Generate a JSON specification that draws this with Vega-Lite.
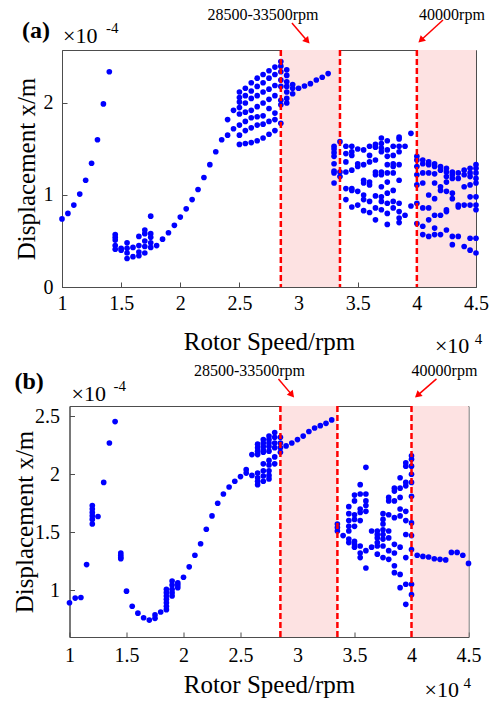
{
"$schema": "https://vega.github.io/schema/vega-lite/v6.json",
"background": "white",
"padding": {"left": 12, "top": 6, "right": 0, "bottom": 0},
"center": true,
"spacing": 4,
"config": {
 "font": "Liberation Serif",
 "view": {"stroke": "#4d4d4d", "strokeWidth": 1},
 "axis": {"labelFont": "Liberation Serif", "titleFont": "Liberation Serif", "labelFontSize": 20, "titleFontSize": 25, "titleFontWeight": "normal", "labelColor": "#000000", "titleColor": "#000000", "domainColor": "#4d4d4d", "tickColor": "#4d4d4d", "grid": false, "labelFlush": false, "tickSize": -5}
},
"datasets": {
 "pa": [
{"s":10000,"d":0.74},{"s":10500,"d":0.80},{"s":11000,"d":0.89},{"s":11500,"d":1.01},{"s":12000,"d":1.16},{"s":12500,"d":1.345},{"s":13000,"d":1.6},{"s":13500,"d":1.99},{"s":14000,"d":2.34},
{"s":14500,"d":0.57},{"s":14500,"d":0.54},{"s":14500,"d":0.51},{"s":14500,"d":0.45},{"s":14500,"d":0.41},
{"s":15000,"d":0.40},{"s":15000,"d":0.42},
{"s":15500,"d":0.48},{"s":15500,"d":0.42},{"s":15500,"d":0.37},{"s":15500,"d":0.31},
{"s":16000,"d":0.43},{"s":16000,"d":0.33},
{"s":16500,"d":0.55},{"s":16500,"d":0.45},{"s":16500,"d":0.38},{"s":16500,"d":0.34},
{"s":17000,"d":0.62},{"s":17000,"d":0.58},{"s":17000,"d":0.50},{"s":17000,"d":0.44},{"s":17000,"d":0.37},
{"s":17500,"d":0.77},{"s":17500,"d":0.58},{"s":17500,"d":0.54},{"s":17500,"d":0.48},{"s":17500,"d":0.43},
{"s":18000,"d":0.45},{"s":18500,"d":0.52},{"s":19000,"d":0.59},{"s":19500,"d":0.67},{"s":20000,"d":0.76},{"s":20500,"d":0.85},{"s":21000,"d":0.95},{"s":21500,"d":1.06},{"s":22000,"d":1.19},{"s":22500,"d":1.33},{"s":23000,"d":1.47},{"s":23500,"d":1.60},
{"s":24000,"d":1.65},{"s":24000,"d":1.82},
{"s":24500,"d":1.72},{"s":24500,"d":1.92},
{"s":25000,"d":1.55},{"s":25000,"d":1.65},{"s":25000,"d":1.76},{"s":25000,"d":1.88},{"s":25000,"d":1.95},{"s":25000,"d":2.01},{"s":25000,"d":2.06},{"s":25000,"d":2.12},
{"s":25500,"d":1.56},{"s":25500,"d":1.70},{"s":25500,"d":1.80},{"s":25500,"d":1.90},{"s":25500,"d":2.00},{"s":25500,"d":2.08},{"s":25500,"d":2.16},
{"s":26000,"d":1.57},{"s":26000,"d":1.73},{"s":26000,"d":1.84},{"s":26000,"d":1.92},{"s":26000,"d":2.05},{"s":26000,"d":2.13},{"s":26000,"d":2.22},
{"s":26500,"d":1.59},{"s":26500,"d":1.76},{"s":26500,"d":1.85},{"s":26500,"d":1.96},{"s":26500,"d":2.08},{"s":26500,"d":2.18},{"s":26500,"d":2.27},
{"s":27000,"d":1.62},{"s":27000,"d":1.77},{"s":27000,"d":1.86},{"s":27000,"d":2.00},{"s":27000,"d":2.12},{"s":27000,"d":2.22},{"s":27000,"d":2.31},
{"s":27500,"d":1.66},{"s":27500,"d":1.80},{"s":27500,"d":1.94},{"s":27500,"d":2.04},{"s":27500,"d":2.15},{"s":27500,"d":2.27},{"s":27500,"d":2.35},
{"s":28000,"d":1.70},{"s":28000,"d":1.82},{"s":28000,"d":1.89},{"s":28000,"d":2.08},{"s":28000,"d":2.19},{"s":28000,"d":2.31},{"s":28000,"d":2.39},
{"s":28500,"d":1.78},{"s":28500,"d":1.98},{"s":28500,"d":2.03},{"s":28500,"d":2.18},{"s":28500,"d":2.25},{"s":28500,"d":2.34},{"s":28500,"d":2.40},{"s":28500,"d":2.45},
{"s":29000,"d":2.00},{"s":29000,"d":2.05},{"s":29000,"d":2.12},{"s":29000,"d":2.18},{"s":29000,"d":2.23},{"s":29000,"d":2.30},{"s":29000,"d":2.36},
{"s":29500,"d":2.10},{"s":29500,"d":2.16},{"s":29500,"d":2.20},
{"s":30000,"d":2.16},{"s":30500,"d":2.185},{"s":31000,"d":2.21},{"s":31500,"d":2.25},{"s":32000,"d":2.28},{"s":32500,"d":2.32},
{"s":33000,"d":1.53},{"s":33000,"d":1.50},{"s":33000,"d":1.46},{"s":33000,"d":1.42},{"s":33000,"d":1.34},{"s":33000,"d":1.26},{"s":33000,"d":1.24},{"s":33000,"d":1.13},
{"s":33500,"d":1.58},{"s":33500,"d":1.25},{"s":33500,"d":1.20},
{"s":34000,"d":1.53},{"s":34000,"d":1.45},{"s":34000,"d":1.36},{"s":34000,"d":1.25},{"s":34000,"d":1.07},{"s":34000,"d":0.95},
{"s":34500,"d":1.53},{"s":34500,"d":1.47},{"s":34500,"d":1.43},{"s":34500,"d":1.27},{"s":34500,"d":1.07},{"s":34500,"d":1.05},{"s":34500,"d":0.87},
{"s":35000,"d":1.50},{"s":35000,"d":1.34},{"s":35000,"d":1.31},{"s":35000,"d":1.04},{"s":35000,"d":0.89},
{"s":35500,"d":1.49},{"s":35500,"d":1.33},{"s":35500,"d":1.16},{"s":35500,"d":1.13},{"s":35500,"d":1.00},{"s":35500,"d":0.95},{"s":35500,"d":0.83},
{"s":36000,"d":1.53},{"s":36000,"d":1.43},{"s":36000,"d":1.36},{"s":36000,"d":1.14},{"s":36000,"d":1.11},{"s":36000,"d":0.93},{"s":36000,"d":0.81},
{"s":36500,"d":1.55},{"s":36500,"d":1.52},{"s":36500,"d":1.38},{"s":36500,"d":1.25},{"s":36500,"d":1.22},{"s":36500,"d":0.99},{"s":36500,"d":0.86},{"s":36500,"d":0.73},
{"s":37000,"d":1.62},{"s":37000,"d":1.56},{"s":37000,"d":1.51},{"s":37000,"d":1.47},{"s":37000,"d":1.25},{"s":37000,"d":1.22},{"s":37000,"d":1.09},{"s":37000,"d":0.98},{"s":37000,"d":0.93},{"s":37000,"d":0.84},
{"s":37500,"d":1.59},{"s":37500,"d":1.49},{"s":37500,"d":1.42},{"s":37500,"d":1.33},{"s":37500,"d":1.24},{"s":37500,"d":1.14},{"s":37500,"d":1.02},{"s":37500,"d":0.91},{"s":37500,"d":0.80},{"s":37500,"d":0.68},
{"s":38000,"d":1.53},{"s":38000,"d":1.43},{"s":38000,"d":1.34},{"s":38000,"d":1.31},{"s":38000,"d":1.24},{"s":38000,"d":1.05},{"s":38000,"d":0.93},{"s":38000,"d":0.86},
{"s":38500,"d":1.63},{"s":38500,"d":1.61},{"s":38500,"d":1.53},{"s":38500,"d":1.47},{"s":38500,"d":1.33},{"s":38500,"d":1.16},{"s":38500,"d":0.91},{"s":38500,"d":0.82},{"s":38500,"d":0.75},{"s":38500,"d":0.70},
{"s":39000,"d":1.53},{"s":39000,"d":0.78},
{"s":39500,"d":1.67},{"s":39500,"d":0.88},
{"s":40000,"d":1.42},{"s":40000,"d":1.38},{"s":40000,"d":1.31},{"s":40000,"d":1.22},{"s":40000,"d":1.11},{"s":40000,"d":0.91},{"s":40000,"d":0.69},
{"s":40500,"d":1.38},{"s":40500,"d":1.34},{"s":40500,"d":1.24},{"s":40500,"d":1.13},{"s":40500,"d":0.86},{"s":40500,"d":0.66},{"s":40500,"d":0.57},
{"s":41000,"d":1.36},{"s":41000,"d":1.33},{"s":41000,"d":1.24},{"s":41000,"d":1.00},{"s":41000,"d":0.86},{"s":41000,"d":0.73},{"s":41000,"d":0.55},
{"s":41500,"d":1.34},{"s":41500,"d":1.31},{"s":41500,"d":1.23},{"s":41500,"d":1.13},{"s":41500,"d":0.96},{"s":41500,"d":0.78},{"s":41500,"d":0.64},{"s":41500,"d":0.57},
{"s":42000,"d":1.31},{"s":42000,"d":1.27},{"s":42000,"d":1.09},{"s":42000,"d":1.05},{"s":42000,"d":0.78},{"s":42000,"d":0.57},
{"s":42500,"d":1.29},{"s":42500,"d":1.25},{"s":42500,"d":1.20},{"s":42500,"d":1.14},{"s":42500,"d":1.04},{"s":42500,"d":0.84},{"s":42500,"d":0.82},{"s":42500,"d":0.62},
{"s":43000,"d":1.25},{"s":43000,"d":1.22},{"s":43000,"d":1.18},{"s":43000,"d":1.02},{"s":43000,"d":0.96},{"s":43000,"d":0.55},{"s":43000,"d":0.46},
{"s":43500,"d":1.24},{"s":43500,"d":1.18},{"s":43500,"d":0.89},{"s":43500,"d":0.87},{"s":43500,"d":0.55},
{"s":44000,"d":1.27},{"s":44000,"d":1.22},{"s":44000,"d":1.09},{"s":44000,"d":0.89},{"s":44000,"d":0.44},
{"s":44500,"d":1.29},{"s":44500,"d":1.24},{"s":44500,"d":1.20},{"s":44500,"d":1.11},{"s":44500,"d":0.98},{"s":44500,"d":0.89},{"s":44500,"d":0.53},{"s":44500,"d":0.40},
{"s":45000,"d":1.33},{"s":45000,"d":1.29},{"s":45000,"d":1.24},{"s":45000,"d":1.18},{"s":45000,"d":1.13},{"s":45000,"d":0.98},{"s":45000,"d":0.89},{"s":45000,"d":0.84},{"s":45000,"d":0.53},{"s":45000,"d":0.37}
 ],
 "pb": [
{"s":10000,"d":0.89},{"s":10500,"d":0.93},{"s":11000,"d":0.935},{"s":11500,"d":1.22},
{"s":12000,"d":1.73},{"s":12000,"d":1.70},{"s":12000,"d":1.67},{"s":12000,"d":1.64},{"s":12000,"d":1.61},{"s":12000,"d":1.57},
{"s":12500,"d":1.635},{"s":13000,"d":1.93},{"s":13500,"d":2.27},{"s":14000,"d":2.455},
{"s":14500,"d":1.32},{"s":14500,"d":1.30},{"s":14500,"d":1.28},{"s":14500,"d":1.27},
{"s":15000,"d":0.99},{"s":15500,"d":0.86},{"s":16000,"d":0.80},{"s":16500,"d":0.76},{"s":17000,"d":0.74},
{"s":17500,"d":0.785},{"s":17500,"d":0.755},{"s":18000,"d":0.81},
{"s":18500,"d":1.006},{"s":18500,"d":0.977},{"s":18500,"d":0.948},{"s":18500,"d":0.92},{"s":18500,"d":0.89},{"s":18500,"d":0.86},{"s":18500,"d":0.83},
{"s":19000,"d":1.078},{"s":19000,"d":1.043},{"s":19000,"d":1.006},{"s":19000,"d":0.977},{"s":19000,"d":0.948},
{"s":19500,"d":1.063},{"s":19500,"d":1.043},{"s":19500,"d":1.02},
{"s":20000,"d":1.11},{"s":20500,"d":1.20},{"s":21000,"d":1.30},{"s":21500,"d":1.40},{"s":22000,"d":1.525},{"s":22500,"d":1.64},{"s":23000,"d":1.75},{"s":23500,"d":1.83},{"s":24000,"d":1.89},{"s":24500,"d":1.94},{"s":25000,"d":1.98},
{"s":25500,"d":2.04},{"s":25500,"d":2.01},
{"s":26000,"d":2.17},{"s":26000,"d":1.99},
{"s":26500,"d":2.26},{"s":26500,"d":2.23},{"s":26500,"d":2.20},{"s":26500,"d":2.17},{"s":26500,"d":2.01},{"s":26500,"d":1.97},{"s":26500,"d":1.94},{"s":26500,"d":1.91},
{"s":27000,"d":2.30},{"s":27000,"d":2.27},{"s":27000,"d":2.24},{"s":27000,"d":2.21},{"s":27000,"d":2.19},{"s":27000,"d":2.09},{"s":27000,"d":2.03},{"s":27000,"d":1.985},{"s":27000,"d":1.94},
{"s":27500,"d":2.33},{"s":27500,"d":2.30},{"s":27500,"d":2.27},{"s":27500,"d":2.24},{"s":27500,"d":2.20},{"s":27500,"d":2.12},{"s":27500,"d":2.08},{"s":27500,"d":2.03},{"s":27500,"d":1.99},{"s":27500,"d":1.96},
{"s":28000,"d":2.36},{"s":28000,"d":2.32},{"s":28000,"d":2.27},{"s":28000,"d":2.23},{"s":28000,"d":2.15},{"s":28000,"d":2.09},
{"s":28500,"d":2.32},{"s":28500,"d":2.27},{"s":28500,"d":2.23},{"s":28500,"d":2.19},
{"s":29000,"d":2.245},{"s":29500,"d":2.27},{"s":30000,"d":2.30},{"s":30500,"d":2.33},{"s":31000,"d":2.37},{"s":31500,"d":2.40},{"s":32000,"d":2.42},{"s":32500,"d":2.44},{"s":33000,"d":2.47},
{"s":33500,"d":1.57},{"s":33500,"d":1.54},{"s":33500,"d":1.51},
{"s":34000,"d":1.47},
{"s":34500,"d":1.72},{"s":34500,"d":1.66},{"s":34500,"d":1.60},{"s":34500,"d":1.55},{"s":34500,"d":1.51},{"s":34500,"d":1.44},{"s":34500,"d":1.41},
{"s":35000,"d":1.82},{"s":35000,"d":1.77},{"s":35000,"d":1.65},{"s":35000,"d":1.61},{"s":35000,"d":1.55},{"s":35000,"d":1.42},{"s":35000,"d":1.395},{"s":35000,"d":1.37},
{"s":35500,"d":1.91},{"s":35500,"d":1.83},{"s":35500,"d":1.70},{"s":35500,"d":1.67},{"s":35500,"d":1.60},{"s":35500,"d":1.38},{"s":35500,"d":1.32},{"s":35500,"d":1.28},
{"s":36000,"d":2.06},{"s":36000,"d":1.83},{"s":36000,"d":1.77},{"s":36000,"d":1.73},{"s":36000,"d":1.68},{"s":36000,"d":1.34},{"s":36000,"d":1.19},
{"s":36500,"d":1.51},{"s":36500,"d":1.37},
{"s":37000,"d":1.51},{"s":37000,"d":1.48},{"s":37000,"d":1.45},{"s":37000,"d":1.41},{"s":37000,"d":1.38},{"s":37000,"d":1.31},
{"s":37500,"d":1.66},{"s":37500,"d":1.61},{"s":37500,"d":1.57},{"s":37500,"d":1.52},{"s":37500,"d":1.48},{"s":37500,"d":1.44},{"s":37500,"d":1.38},{"s":37500,"d":1.28},
{"s":38000,"d":1.80},{"s":38000,"d":1.77},{"s":38000,"d":1.65},{"s":38000,"d":1.51},{"s":38000,"d":1.45},{"s":38000,"d":1.34},{"s":38000,"d":1.265},
{"s":38500,"d":1.88},{"s":38500,"d":1.855},{"s":38500,"d":1.77},{"s":38500,"d":1.625},{"s":38500,"d":1.395},{"s":38500,"d":1.32},{"s":38500,"d":1.21},{"s":38500,"d":1.15},
{"s":39000,"d":1.97},{"s":39000,"d":1.88},{"s":39000,"d":1.80},{"s":39000,"d":1.70},{"s":39000,"d":1.64},{"s":39000,"d":1.37},{"s":39000,"d":1.135},{"s":39000,"d":1.02},
{"s":39500,"d":2.10},{"s":39500,"d":2.07},{"s":39500,"d":1.93},{"s":39500,"d":1.90},{"s":39500,"d":1.68},{"s":39500,"d":1.60},{"s":39500,"d":1.48},{"s":39500,"d":1.28},{"s":39500,"d":1.05},{"s":39500,"d":0.876},
{"s":40000,"d":2.16},{"s":40000,"d":2.13},{"s":40000,"d":2.07},{"s":40000,"d":2.00},{"s":40000,"d":1.93},{"s":40000,"d":1.81},{"s":40000,"d":1.58},{"s":40000,"d":1.47},{"s":40000,"d":1.35},{"s":40000,"d":1.05},{"s":40000,"d":0.96},
{"s":40500,"d":1.30},{"s":41000,"d":1.29},{"s":41500,"d":1.285},{"s":42000,"d":1.27},{"s":42500,"d":1.265},{"s":43000,"d":1.26},{"s":43500,"d":1.325},{"s":44000,"d":1.325},{"s":44500,"d":1.30},{"s":45000,"d":1.23}
 ]
},
"vconcat": [
 {
  "width": 414, "height": 237,
  "encoding": {
   "x": {"field": "s", "type": "quantitative", "scale": {"domain": [10000, 45000], "nice": false, "zero": false}, "axis": {"title": "Rotor Speed/rpm", "values": [10000,15000,20000,25000,30000,35000,40000,45000], "labelExpr": "'' + datum.value/10000", "labelPadding": 11, "titlePadding": 16}},
   "y": {"field": "d", "type": "quantitative", "scale": {"domain": [0, 2.576], "nice": false, "zero": false}, "axis": {"title": "Displacement x/m", "values": [0, 1, 2], "labelExpr": "'' + datum.value", "labelPadding": 14, "titlePadding": 4}}
  },
  "layer": [
   {"data": {"values": [{"s": 28500, "s2": 33500}, {"s": 40000, "s2": 45000}]},
    "mark": {"type": "rect", "fill": "#fde2e2"},
    "encoding": {"x2": {"field": "s2"}, "y": {"value": 0}, "y2": {"value": "height"}}},
   {"data": {"name": "pa"},
    "mark": {"type": "circle", "size": 32, "color": "#0000ff", "opacity": 1}},
   {"data": {"values": [{"s": 28500}, {"s": 33500}, {"s": 40000}]},
    "mark": {"type": "rule", "color": "#ff0000", "strokeDash": [6, 3], "strokeWidth": 2.5},
    "encoding": {"y": {"value": 0}, "y2": {"value": "height"}}},
   {"data": {"values": [{"s": 29440, "d": 2.87, "s2": 30740, "d2": 2.674}, {"s": 42210, "d": 2.902, "s2": 40340, "d2": 2.682}]},
    "mark": {"type": "rule", "color": "#ff0000", "strokeWidth": 1.5, "clip": false},
    "encoding": {"x2": {"field": "s2"}, "y2": {"field": "d2"}}},
   {"data": {"values": [{"s": 30740, "d": 2.674}]},
    "mark": {"type": "point", "shape": "triangle-up", "filled": true, "color": "#ff0000", "opacity": 1, "size": 60, "angle": 139, "clip": false}},
   {"data": {"values": [{"s": 40340, "d": 2.682}]},
    "mark": {"type": "point", "shape": "triangle-up", "filled": true, "color": "#ff0000", "opacity": 1, "size": 60, "angle": 227, "clip": false}},
   {"data": {"values": [{"s": 26990, "d": 2.957, "t": "28500-33500rpm"}, {"s": 42970, "d": 2.957, "t": "40000rpm"}]},
    "mark": {"type": "text", "fontSize": 16, "align": "center", "baseline": "middle", "color": "#000000", "clip": false},
    "encoding": {"text": {"field": "t"}}},
   {"data": {"values": [{"s": 6620, "d": 2.78, "t": "(a)"}]},
    "mark": {"type": "text", "fontSize": 24, "fontWeight": "bold", "align": "left", "baseline": "middle", "color": "#000000", "clip": false},
    "encoding": {"text": {"field": "t"}}},
   {"data": {"values": [{"s": 10085, "d": 2.728, "t": "×10"}, {"s": 41530, "d": -0.641, "t": "×10"}]},
    "mark": {"type": "text", "fontSize": 22, "align": "left", "baseline": "middle", "color": "#000000", "clip": false},
    "encoding": {"text": {"field": "t"}}},
   {"data": {"values": [{"s": 13720, "d": 2.815, "t": "-4"}, {"s": 44900, "d": -0.565, "t": "4"}]},
    "mark": {"type": "text", "fontSize": 15, "align": "left", "baseline": "middle", "color": "#000000", "clip": false},
    "encoding": {"text": {"field": "t"}}}
  ]
 },
 {
  "width": 399, "height": 231,
  "encoding": {
   "x": {"field": "s", "type": "quantitative", "scale": {"domain": [10000, 45000], "nice": false, "zero": false}, "axis": {"title": "Rotor Speed/rpm", "values": [10000,15000,20000,25000,30000,35000,40000,45000], "labelExpr": "'' + datum.value/10000", "labelPadding": 13, "titlePadding": 7}},
   "y": {"field": "d", "type": "quantitative", "scale": {"domain": [0.594, 2.59], "nice": false, "zero": false}, "axis": {"title": "Displacement x/m", "values": [1, 1.5, 2, 2.5], "labelExpr": "'' + datum.value", "labelPadding": 15, "titlePadding": -3}}
  },
  "layer": [
   {"data": {"values": [{"s": 28500, "s2": 33500}, {"s": 40000, "s2": 45000}]},
    "mark": {"type": "rect", "fill": "#fde2e2"},
    "encoding": {"x2": {"field": "s2"}, "y": {"value": 0}, "y2": {"value": "height"}}},
   {"data": {"name": "pb"},
    "mark": {"type": "circle", "size": 32, "color": "#0000ff", "opacity": 1}},
   {"data": {"values": [{"s": 28500}, {"s": 33500}, {"s": 40000}]},
    "mark": {"type": "rule", "color": "#ff0000", "strokeDash": [6, 3], "strokeWidth": 2.5},
    "encoding": {"y": {"value": 0}, "y2": {"value": "height"}}},
   {"data": {"values": [{"s": 28330, "d": 2.824, "s2": 29510, "d2": 2.686}, {"s": 42190, "d": 2.824, "s2": 40530, "d2": 2.682}]},
    "mark": {"type": "rule", "color": "#ff0000", "strokeWidth": 1.5, "clip": false},
    "encoding": {"x2": {"field": "s2"}, "y2": {"field": "d2"}}},
   {"data": {"values": [{"s": 29510, "d": 2.686}]},
    "mark": {"type": "point", "shape": "triangle-up", "filled": true, "color": "#ff0000", "opacity": 1, "size": 60, "angle": 140, "clip": false}},
   {"data": {"values": [{"s": 40530, "d": 2.682}]},
    "mark": {"type": "point", "shape": "triangle-up", "filled": true, "color": "#ff0000", "opacity": 1, "size": 60, "angle": 229, "clip": false}},
   {"data": {"values": [{"s": 25790, "d": 2.893, "t": "28500-33500rpm"}, {"s": 42890, "d": 2.893, "t": "40000rpm"}]},
    "mark": {"type": "text", "fontSize": 16, "align": "center", "baseline": "middle", "color": "#000000", "clip": false},
    "encoding": {"text": {"field": "t"}}},
   {"data": {"values": [{"s": 5175, "d": 2.80, "t": "(b)"}]},
    "mark": {"type": "text", "fontSize": 24, "fontWeight": "bold", "align": "left", "baseline": "middle", "color": "#000000", "clip": false},
    "encoding": {"text": {"field": "t"}}},
   {"data": {"values": [{"s": 10175, "d": 2.694, "t": "×10"}, {"s": 41140, "d": 0.135, "t": "×10"}]},
    "mark": {"type": "text", "fontSize": 22, "align": "left", "baseline": "middle", "color": "#000000", "clip": false},
    "encoding": {"text": {"field": "t"}}},
   {"data": {"values": [{"s": 13860, "d": 2.763, "t": "-4"}, {"s": 44560, "d": 0.2, "t": "4"}]},
    "mark": {"type": "text", "fontSize": 15, "align": "left", "baseline": "middle", "color": "#000000", "clip": false},
    "encoding": {"text": {"field": "t"}}}
  ]
 }
]
}
